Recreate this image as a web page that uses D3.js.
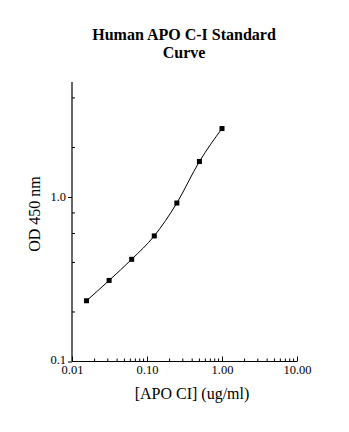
<!DOCTYPE html>
<html>
<head>
<meta charset="utf-8">
<script src="https://cdn.jsdelivr.net/npm/d3@7"></script>
<style>
  html, body { margin: 0; padding: 0; background: #fff; }
  svg text { font-family: "Liberation Serif", "Times New Roman", serif; fill: #000; }
</style>
</head>
<body>
<svg id="chart" width="349" height="432"></svg>
<script>
// Standard concentrations (ug/ml) and measured optical density at 450 nm
const concentrations = [0.015625, 0.03125, 0.0625, 0.125, 0.25, 0.5, 1.0];
const odValues = [0.234, 0.311, 0.418, 0.580, 0.919, 1.644, 2.606];

const xTickValues = [0.01, 0.1, 1, 10];
const xTickLabels = ["0.01", "0.10", "1.00", "10.00"];
const yTickValues = [0.1, 1];
const yTickLabels = ["0.1", "1.0"];
const yMinorTicks = [0.2, 0.4, 0.6, 0.8, 2, 4];
const xMinorTicks = [2, 3, 4, 5, 6, 7, 8, 9].flatMap(m => [0.01, 0.1, 1].map(d => m * d));

const titleLines = ["Human APO C-I Standard", "Curve"];
const xTitle = "[APO CI] (ug/ml)";
const yTitle = "OD 450 nm";

const svg = d3.select("#chart");
const plotLeft = 72, plotRight = 297, plotTop = 82, plotBottom = 361.5;

const x = d3.scaleLog().domain([0.01, 10]).range([plotLeft, plotRight]);
const y = d3.scaleLog().domain([0.1, 5]).range([plotBottom, plotTop]);

// Title
svg.append("text")
  .attr("x", 184).attr("y", 40)
  .attr("text-anchor", "middle")
  .attr("font-size", 16).attr("font-weight", "bold")
  .selectAll("tspan").data(titleLines).join("tspan")
  .attr("x", 184).attr("dy", (d, i) => i === 0 ? 0 : 18)
  .text(d => d);

// Axes lines
const g = svg.append("g");
g.append("line").attr("x1", plotLeft).attr("x2", plotLeft).attr("y1", plotTop).attr("y2", plotBottom)
  .attr("stroke", "#000").attr("stroke-width", 1.2);
g.append("line").attr("x1", plotLeft).attr("x2", plotRight).attr("y1", plotBottom).attr("y2", plotBottom)
  .attr("stroke", "#000").attr("stroke-width", 1.2);

// X axis ticks and labels
const xAxis = d3.axisBottom(x).tickValues(xTickValues)
  .tickFormat((d, i) => xTickLabels[i]).tickSizeInner(-5).tickSizeOuter(0).tickPadding(4);
const xg = svg.append("g").attr("transform", `translate(0,${plotBottom})`).call(xAxis);
xg.select(".domain").remove();
xg.selectAll("text").attr("font-size", 12.5).attr("font-family", "Liberation Serif, serif");

svg.append("g").selectAll("line").data(xMinorTicks).join("line")
  .attr("x1", d => x(d)).attr("x2", d => x(d))
  .attr("y1", plotBottom).attr("y2", plotBottom - 3)
  .attr("stroke", "#000");

// Y axis ticks and labels (the lowest label sits just above the corner)
const yAxis = d3.axisLeft(y).tickValues(yTickValues)
  .tickFormat((d, i) => yTickLabels[i]).tickSizeInner(4).tickSizeOuter(0).tickPadding(2);
const yg = svg.append("g").attr("transform", `translate(${plotLeft},0)`).call(yAxis);
yg.select(".domain").remove();
yg.selectAll("text").attr("font-size", 12.5).attr("font-family", "Liberation Serif, serif")
  .attr("dy", (d, i) => i === 0 ? "0.12em" : "0.32em");

svg.append("g").selectAll("line").data(yMinorTicks).join("line")
  .attr("x1", plotLeft).attr("x2", plotLeft + 3)
  .attr("y1", d => y(d)).attr("y2", d => y(d))
  .attr("stroke", "#000");

// Axis titles
svg.append("text")
  .attr("x", 192).attr("y", 399)
  .attr("text-anchor", "middle").attr("font-size", 16)
  .text(xTitle);

svg.append("text")
  .attr("transform", `translate(40,214) rotate(-90)`)
  .attr("text-anchor", "middle").attr("font-size", 16)
  .text(yTitle);

// Fitted curve through the standards
const pts = concentrations.map((c, i) => [x(c), y(odValues[i])]);
svg.append("path")
  .attr("d", d3.line().curve(d3.curveMonotoneX)(pts))
  .attr("fill", "none").attr("stroke", "#000").attr("stroke-width", 1);

// Standard points
svg.append("g").selectAll("rect").data(pts).join("rect")
  .attr("x", d => d[0] - 2.5).attr("y", d => d[1] - 2.5)
  .attr("width", 5).attr("height", 5)
  .attr("fill", "#000");
</script>
</body>
</html>
